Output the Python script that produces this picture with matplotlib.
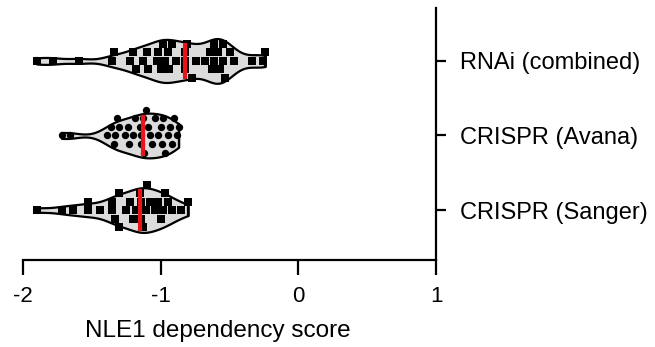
import numpy as np
import matplotlib
matplotlib.use("Agg")
import matplotlib.pyplot as plt

plt.rcParams['font.family'] = ['Liberation Sans', 'DejaVu Sans']

# NLE1 dependency scores per screen
categories = ["RNAi (combined)", "CRISPR (Avana)", "CRISPR (Sanger)"]
rnai = [-1.90, -1.78, -1.59, -1.35, -1.34, -1.22, -1.20, -1.18, -1.13, -1.10,
        -1.09, -1.03, -1.02, -1.00, -0.98, -0.97, -0.95, -0.94, -0.92, -0.89,
        -0.82, -0.82, -0.82, -0.81, -0.77, -0.74, -0.68, -0.64, -0.63, -0.61,
        -0.61, -0.58, -0.57, -0.55, -0.55, -0.53, -0.50, -0.47, -0.34, -0.26,
        -0.24]
avana = [-1.72, -1.66, -1.39, -1.36, -1.34, -1.33, -1.32, -1.30, -1.26, -1.24,
         -1.23, -1.20, -1.19, -1.15, -1.14, -1.14, -1.13, -1.12, -1.11, -1.09,
         -1.08, -1.06, -1.04, -1.02, -1.00, -0.99, -0.98, -0.97, -0.95, -0.93,
         -0.92, -0.90, -0.88, -0.87]
sanger = [-1.90, -1.72, -1.64, -1.53, -1.53, -1.44, -1.35, -1.35, -1.33, -1.30,
          -1.30, -1.25, -1.22, -1.20, -1.18, -1.14, -1.15, -1.14, -1.13, -1.11,
          -1.10, -1.08, -1.04, -1.02, -1.00, -0.98, -0.97, -0.95, -0.92, -0.85,
          -0.80]
groups = [rnai, avana, sanger]
markers = ["s", "o", "s"]
xticks = [-2, -1, 0, 1]

positions = [3, 2, 1]
half_width = 0.30
bandwidth = 0.085

fig = plt.figure(figsize=(6.55, 3.47), dpi=100)
ax = fig.add_axes([23 / 655, 87 / 347, 413 / 655, 252 / 347])
ax.set_xlim(-2, 1)
ax.set_ylim(0.33, 3.71)


def kde(vals, grid, bw):
    vals = np.asarray(vals)
    d = (grid[:, None] - vals[None, :]) / bw
    return np.exp(-0.5 * d ** 2).sum(axis=1)


# marker footprint in data units (7 px wide, 8.5 px row spacing)
mw = 7 / 137.7
row = 8.5 / 74.5

for vals, pos, mk in zip(groups, positions, markers):
    v = np.asarray(vals)
    grid = np.linspace(v.min(), v.max(), 400)
    dens = kde(v, grid, bandwidth)
    dens = dens / dens.max() * half_width
    ax.fill_between(grid, pos - dens, pos + dens, facecolor="#dcdcdc",
                    edgecolor="black", linewidth=1.6, zorder=1)
    ax.plot([grid[0], grid[0]], [pos - dens[0], pos + dens[0]], color="black", lw=1.6, zorder=1)
    ax.plot([grid[-1], grid[-1]], [pos - dens[-1], pos + dens[-1]], color="black", lw=1.6, zorder=1)

    # swarm placement on discrete rows
    placed = []
    ys = []
    for x in v:
        for k in [0, 1, -1, 2, -2, 3, -3, 4, -4]:
            ok = all(not (pk == k and abs(px - x) < mw) for px, pk in placed)
            if ok:
                placed.append((x, k))
                ys.append(pos + k * row)
                break
    ax.scatter(v, ys, marker=mk, s=30 if mk == "s" else 28, color="black",
               linewidths=0, zorder=3)

    med = np.median(v)
    mh = np.interp(med, grid, dens) * 0.95
    ax.plot([med, med], [pos - mh, pos + mh], color="#e8141c", lw=3, zorder=4,
            solid_capstyle="butt")

for s in ["left", "top"]:
    ax.spines[s].set_visible(False)
for s in ["right", "bottom"]:
    ax.spines[s].set_linewidth(1.6)

ax.set_xticks(xticks)
ax.set_xticklabels([str(t) for t in xticks])
ax.yaxis.tick_right()
ax.set_yticks(positions)
ax.set_yticklabels(categories)
ax.tick_params(axis="x", direction="out", length=11, width=1.6, labelsize=16, pad=8)
ax.tick_params(axis="y", direction="out", length=7, width=1.6, labelsize=17, pad=10)
ax.set_xlabel("NLE1 dependency score", fontsize=17.5, labelpad=11)
ax.xaxis.set_label_coords((218 - 23) / 413, -0.24)

fig.savefig("out.png", dpi=100)
